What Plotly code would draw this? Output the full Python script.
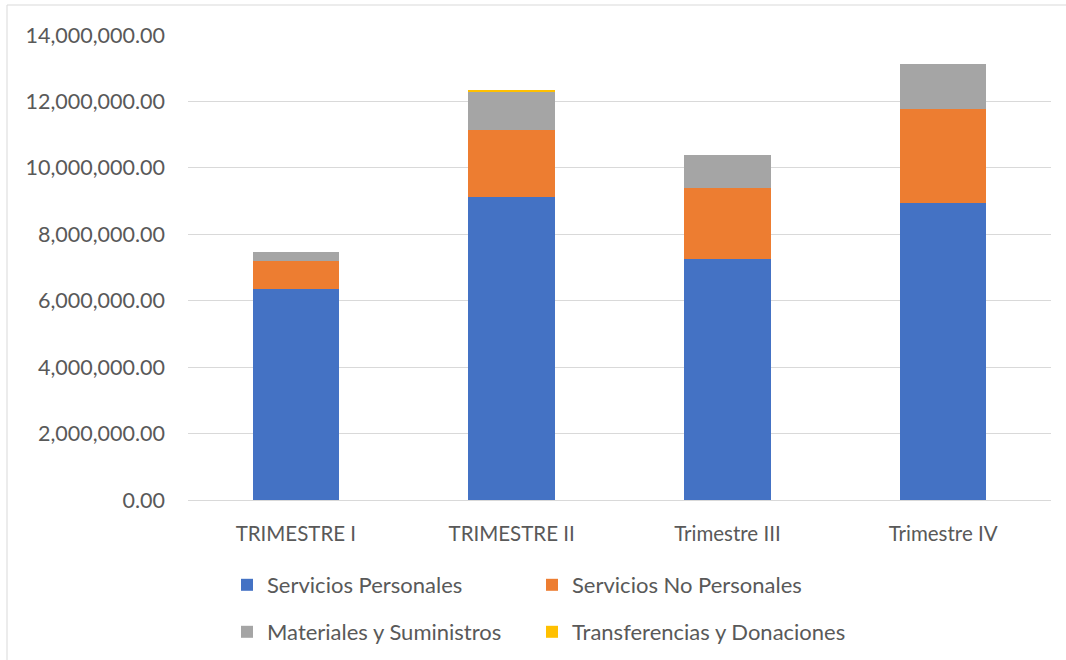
import plotly.graph_objects as go

categories = ["TRIMESTRE I", "TRIMESTRE II", "Trimestre III", "Trimestre IV"]
servicios_personales = [6360000, 9130000, 7250000, 8950000]
servicios_no_personales = [830000, 2000000, 2140000, 2830000]
materiales_suministros = [270000, 1155000, 1010000, 1350000]
transferencias_donaciones = [0, 60000, 0, 0]
y_ticks = [0, 2000000, 4000000, 6000000, 8000000, 10000000, 12000000, 14000000]

FONT = "Lato"
GREY = "#595959"

L, R, T, B = 188, 15, 35, 160
W, H = 1066, 660
pw = W - L - R
ph = H - T - B

def px_x(p):
    return (p - L) / pw

def px_y(p):
    return (H - B - p) / ph

fig = go.Figure()
series = [
    ("Servicios Personales", servicios_personales, "#4472c4", "legend", 227, 585),
    ("Servicios No Personales", servicios_no_personales, "#ed7d31", "legend2", 532, 585),
    ("Materiales y Suministros", materiales_suministros, "#a5a5a5", "legend3", 227, 632),
    ("Transferencias y Donaciones", transferencias_donaciones, "#ffc000", "legend4", 532, 632),
]
legends = {}
for name, vals, color, lg, lx, ly in series:
    fig.add_trace(go.Bar(
        x=categories, y=vals, name=name, marker=dict(color=color, line=dict(width=0)),
        legend=lg, showlegend=True,
    ))
    legends[lg] = dict(orientation="h", x=px_x(lx), xanchor="left", y=px_y(ly), yanchor="middle",
                       font=dict(family=FONT, size=22, color=GREY),
                       itemclick=False, bgcolor="rgba(0,0,0,0)")

fig.update_layout(
    width=W, height=H,
    showlegend=True,
    barmode="stack", bargap=0.6,
    margin=dict(l=L, r=R, t=T, b=B, autoexpand=False),
    paper_bgcolor="white", plot_bgcolor="white",
    font=dict(family=FONT, size=20, color=GREY),
    xaxis=dict(showgrid=False, showline=True, linecolor="#d9d9d9", linewidth=1,
               ticks="", tickfont=dict(size=20.5, color=GREY), ticklabelstandoff=15),
    yaxis=dict(range=[0, 14000000], tickvals=y_ticks, tickformat=",.2f",
               showgrid=True, gridcolor="#d9d9d9", gridwidth=1, zeroline=False,
               showline=False, ticks="", ticklabelstandoff=22,
               tickfont=dict(size=21.5, color=GREY)),
    shapes=[dict(type="rect", xref="paper", yref="paper",
                 x0=px_x(7), x1=px_x(1140), y0=px_y(720), y1=px_y(5),
                 line=dict(color="#d9d9d9", width=1), layer="below")],
    **legends,
)

fig.write_html("out.html", config={"displayModeBar": False},
               post_script="document.body.style.margin='0px';")
